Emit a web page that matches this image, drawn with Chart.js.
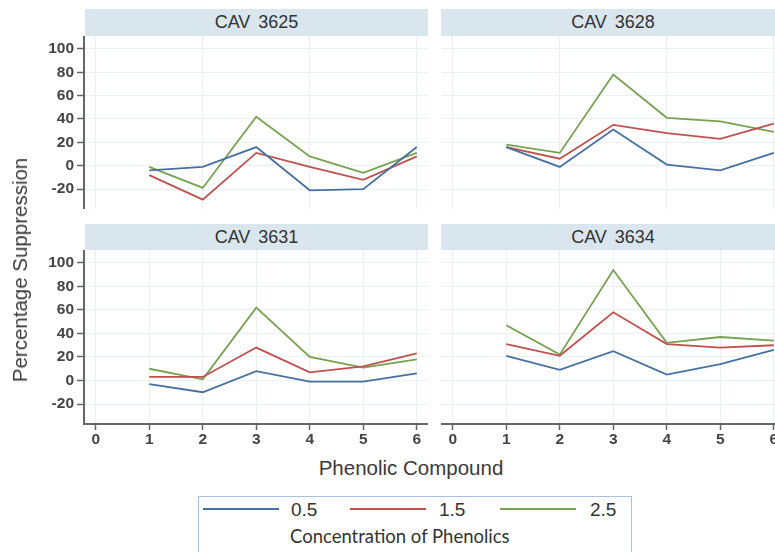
<!DOCTYPE html>
<html>
<head>
<meta charset="utf-8">
<script src="https://cdn.jsdelivr.net/npm/chart.js@4.4.1/dist/chart.umd.min.js"></script>
<style>
html, body { margin: 0; padding: 0; width: 775px; height: 552px; overflow: hidden; background: #fff; font-family: "Liberation Sans", Arial, sans-serif; }
.box { position: absolute; }
.strip { position: absolute; background: #dae6ee; color: #333; font-size: 18px; text-align: center; word-spacing: 3px; }
#ytitle { position: absolute; left: 20px; top: 270px; transform: translate(-50%, -50%) rotate(-90deg); font-size: 20.5px; color: #3a3a3a; white-space: nowrap; }
#xtitle { position: absolute; left: 411px; top: 468px; transform: translate(-50%, -50%); font-size: 20.5px; color: #3a3a3a; white-space: nowrap; }
#legend { position: absolute; left: 198px; top: 496px; width: 434px; height: 70px; border: 1.5px solid #a9c1dc; box-sizing: border-box; }
.item { position: absolute; top: 2px; font-size: 19px; color: #333; }
.swatch { position: absolute; top: 11px; height: 2px; width: 76px; }
#legtitle { position: absolute; left: 91px; top: 28px; white-space: nowrap; font-family: Lato, sans-serif; font-size: 18.5px; color: #333; }
</style>
</head>
<body>
<div class="strip" style="left:85px;top:9px;width:343px;height:27px;line-height:27px;">CAV 3625</div>
<div class="strip" style="left:441px;top:9px;width:344px;height:27px;line-height:27px;">CAV 3628</div>
<div class="strip" style="left:85px;top:224px;width:343px;height:26px;line-height:26px;">CAV 3631</div>
<div class="strip" style="left:441px;top:224px;width:344px;height:26px;line-height:26px;">CAV 3634</div>

<div class="box" style="left:0;top:36px;width:428px;height:173px;"><canvas id="c3625"></canvas></div>
<div class="box" style="left:441px;top:36px;width:344px;height:173px;"><canvas id="c3628"></canvas></div>
<div class="box" style="left:0;top:250px;width:428px;height:204px;"><canvas id="c3631"></canvas></div>
<div class="box" style="left:441px;top:250px;width:344px;height:204px;"><canvas id="c3634"></canvas></div>

<div id="ytitle">Percentage Suppression</div>
<div id="xtitle">Phenolic Compound</div>
<div id="legend"></div>

<script>
const compounds = [1, 2, 3, 4, 5, 6];
const concentrations = ['0.5', '1.5', '2.5'];

// percentage suppression, one array per isolate and concentration
const cav3625_05 = [-4, -1, 16, -21, -20, 16];
const cav3625_15 = [-8, -29, 11, -1, -12, 8];
const cav3625_25 = [-1, -19, 42, 8, -6, 11];

const cav3628_05 = [16, -1, 31, 1, -4, 11];
const cav3628_15 = [16, 6, 35, 28, 23, 36];
const cav3628_25 = [18, 11, 78, 41, 38, 29];

const cav3631_05 = [-3, -10, 8, -1, -1, 6];
const cav3631_15 = [3, 3, 28, 7, 12, 23];
const cav3631_25 = [10, 1, 62, 20, 11, 18];

const cav3634_05 = [21, 9, 25, 5, 14, 26];
const cav3634_15 = [31, 21, 58, 31, 28, 30];
const cav3634_25 = [47, 22, 94, 32, 37, 34];

const yTicks = [-20, 0, 20, 40, 60, 80, 100];
const xTicksTop = [0, 2, 4, 6];
const xTicksBottom = [0, 1, 2, 3, 4, 5, 6];

const colors = ['#46709f', '#c0504d', '#77a051'];
const gridColor = '#e9f1f3';
const axisColor = '#666';
const tickFont = { family: 'Liberation Sans', size: 15.5, weight: 'bold' };

function makePanel(canvasId, series, showY, showX) {
    const ctx = document.getElementById(canvasId).getContext('2d');
    return new Chart(ctx, {
        type: 'line',
        data: {
            datasets: series.map((vals, i) => ({
                label: concentrations[i],
                data: vals.map((v, j) => ({ x: compounds[j], y: v })),
                borderColor: colors[i],
                borderWidth: 1.8,
                pointRadius: 0,
                fill: false,
                tension: 0
            }))
        },
        options: {
            responsive: true,
            maintainAspectRatio: false,
            animation: false,
            layout: { padding: 0, autoPadding: false },
            plugins: { legend: { display: false }, tooltip: { enabled: false } },
            scales: {
                x: {
                    type: 'linear',
                    min: -0.22,
                    max: 6.21,
                    afterBuildTicks: s => { s.ticks = (showX ? xTicksBottom : xTicksTop).map(v => ({ value: v })); },
                    afterFit: s => { s.height = showX ? 30 : 0; s.paddingLeft = 0; s.paddingRight = 0; },
                    grid: { color: gridColor, lineWidth: 1, drawTicks: showX, tickLength: 6, tickColor: axisColor, tickWidth: 1.5 },
                    border: { display: showX, color: axisColor, width: 2 },
                    ticks: { display: showX, font: tickFont, color: '#444', padding: 0, maxRotation: 0 }
                },
                y: {
                    min: -37,
                    max: 111,
                    afterBuildTicks: s => { s.ticks = yTicks.map(v => ({ value: v })); },
                    afterFit: s => { s.width = showY ? 84 : 0; s.paddingTop = 0; s.paddingBottom = 0; },
                    grid: { color: gridColor, lineWidth: 1, drawTicks: showY, tickLength: 7, tickColor: axisColor, tickWidth: 1.5 },
                    border: { display: showY, color: axisColor, width: 2 },
                    ticks: { display: showY, font: tickFont, color: '#444', padding: 3 }
                }
            }
        }
    });
}

makePanel('c3625', [cav3625_05, cav3625_15, cav3625_25], true, false);
makePanel('c3628', [cav3628_05, cav3628_15, cav3628_25], false, false);
makePanel('c3631', [cav3631_05, cav3631_15, cav3631_25], true, true);
makePanel('c3634', [cav3634_05, cav3634_15, cav3634_25], false, true);

// legend built from the same names and colours
const legend = document.getElementById('legend');
const swatchLeft = [4, 151, 301];
const labelLeft = [92, 240, 391];
concentrations.forEach((c, i) => {
    const sw = document.createElement('div');
    sw.className = 'swatch';
    sw.style.left = swatchLeft[i] + 'px';
    sw.style.background = colors[i];
    legend.appendChild(sw);
    const lb = document.createElement('div');
    lb.className = 'item';
    lb.style.left = labelLeft[i] + 'px';
    lb.textContent = c;
    legend.appendChild(lb);
});
const lt = document.createElement('div');
lt.id = 'legtitle';
lt.textContent = 'Concentration of Phenolics';
legend.appendChild(lt);
</script>
</body>
</html>
